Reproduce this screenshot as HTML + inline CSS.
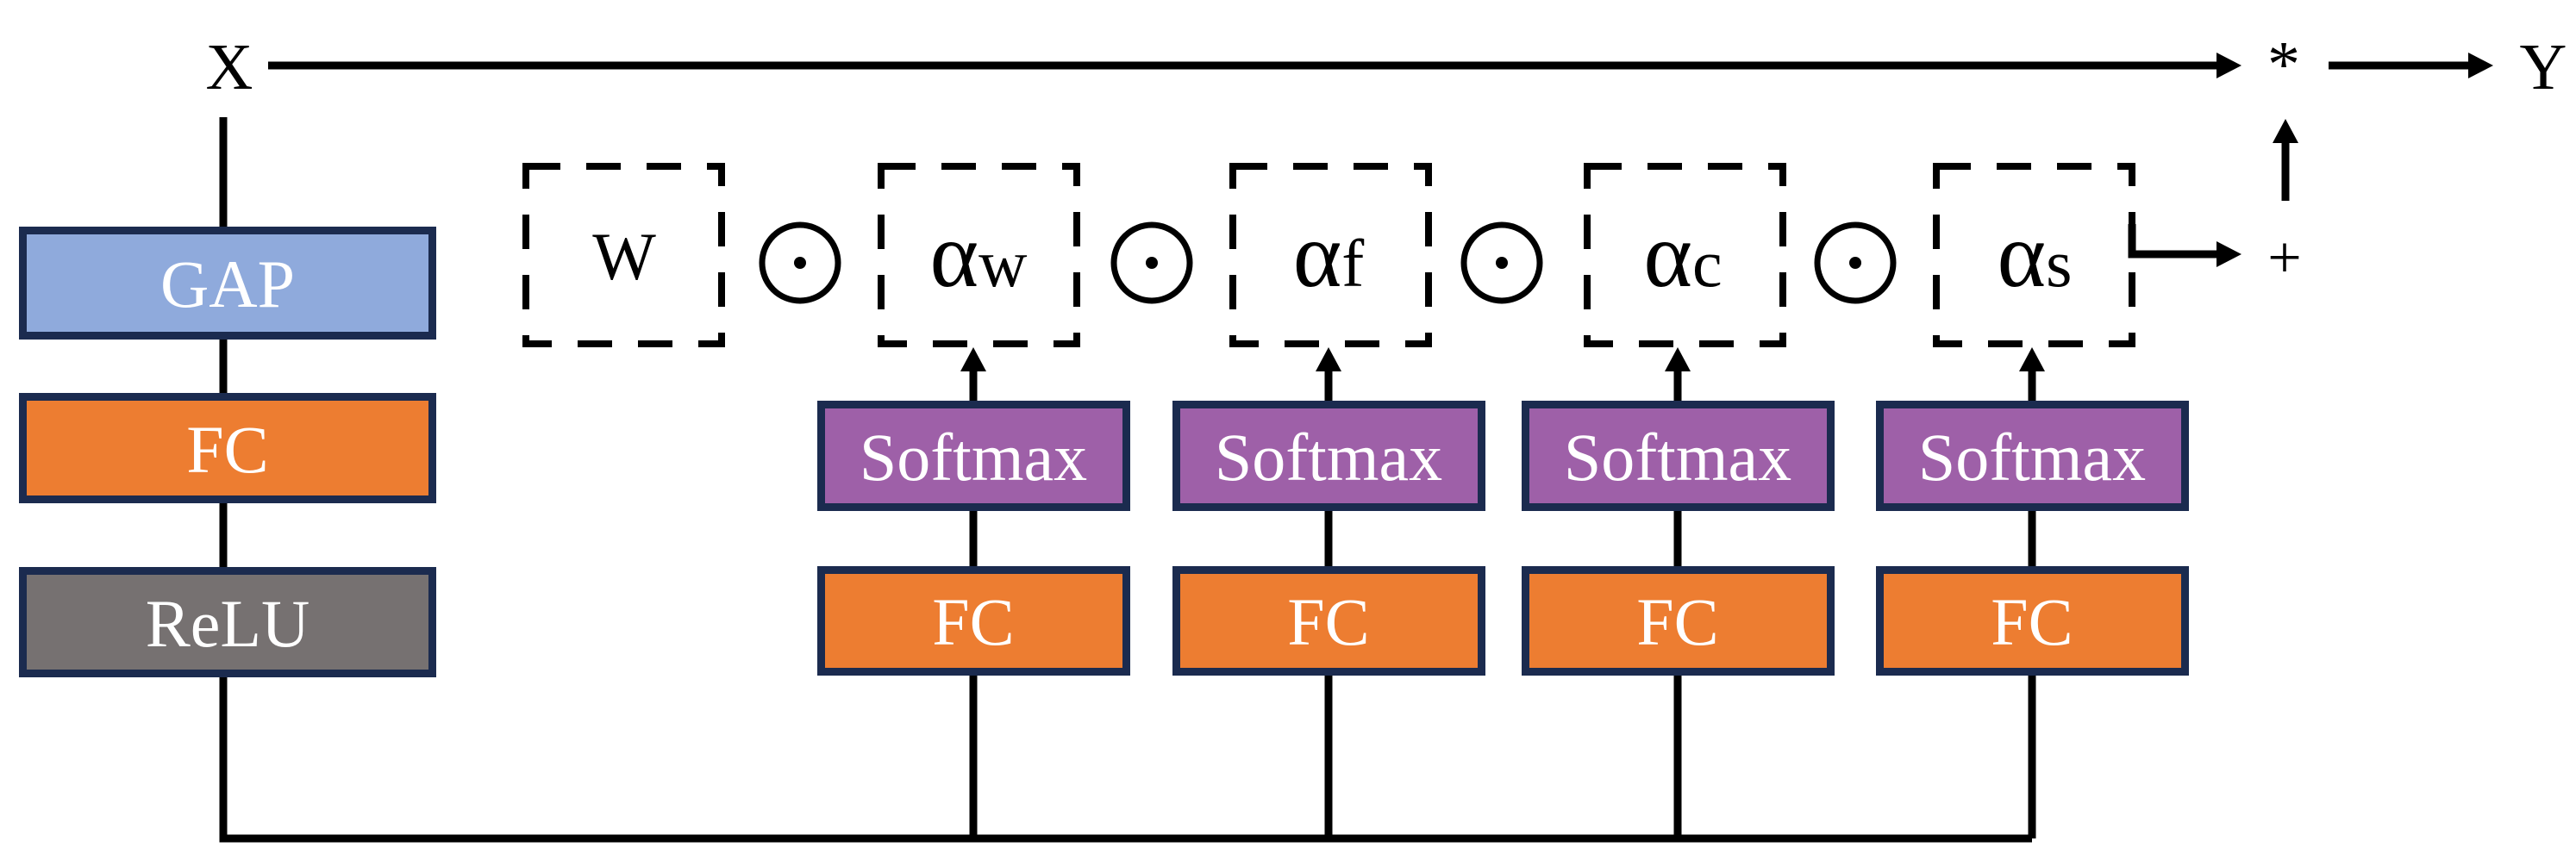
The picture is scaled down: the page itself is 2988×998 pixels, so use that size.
<!DOCTYPE html>
<html><head><meta charset="utf-8"><style>
html,body{margin:0;padding:0;background:#fff;}
svg{display:block;}
text{font-family:"Liberation Serif",serif;}
</style></head><body>
<svg width="2988" height="998" viewBox="0 0 2988 998" xmlns="http://www.w3.org/2000/svg">
<defs>
<marker id="ah" markerWidth="30" markerHeight="30" refX="0" refY="0" viewBox="-30 -15 30 30" markerUnits="userSpaceOnUse" orient="auto">
<path d="M-30,-15 L0,0 L-30,15 Z" fill="#000"/>
</marker>
</defs>
<g stroke="#000" stroke-width="9" fill="none">
<!-- top line -->
<line x1="311" y1="76" x2="2571" y2="76"/>
<path d="M2571,61 L2600,76 L2571,91 Z" fill="#000" stroke="none"/>
<line x1="2701" y1="76" x2="2863" y2="76"/>
<path d="M2863,61 L2892,76 L2863,91 Z" fill="#000" stroke="none"/>
<!-- up arrow + to * -->
<line x1="2651" y1="233" x2="2651" y2="166"/>
<path d="M2636,166 L2651,138 L2666,166 Z" fill="#000" stroke="none"/>
<!-- alpha s to + -->
<polyline points="2473,260 2473,295 2571,295"/>
<path d="M2571,280 L2600,295 L2571,310 Z" fill="#000" stroke="none"/>
<!-- left vertical and bottom -->
<polyline points="259,136 259,973 2357,973"/>
<line x1="1129" y1="973" x2="1129" y2="783"/>
<line x1="1541" y1="973" x2="1541" y2="783"/>
<line x1="1946" y1="973" x2="1946" y2="783"/>
<line x1="2357" y1="973" x2="2357" y2="783"/>
<!-- softmax-FC connectors -->
<line x1="1129" y1="593" x2="1129" y2="657"/>
<line x1="1541" y1="593" x2="1541" y2="657"/>
<line x1="1946" y1="593" x2="1946" y2="657"/>
<line x1="2357" y1="593" x2="2357" y2="657"/>
<!-- arrows softmax to dashed -->
<line x1="1129" y1="465" x2="1129" y2="430"/>
<line x1="1541" y1="465" x2="1541" y2="430"/>
<line x1="1946" y1="465" x2="1946" y2="430"/>
<line x1="2357" y1="465" x2="2357" y2="430"/>
</g>
<g fill="#000">
<path d="M1114,431 L1129,403 L1144,431 Z"/>
<path d="M1526,431 L1541,403 L1556,431 Z"/>
<path d="M1931,431 L1946,403 L1961,431 Z"/>
<path d="M2342,431 L2357,403 L2372,431 Z"/>
</g>
<!-- dashed boxes -->
<g stroke="#000" stroke-width="8" fill="none" stroke-dasharray="40 30">
<rect x="610" y="193" width="227" height="206"/>
<rect x="1022" y="193" width="227" height="206"/>
<rect x="1430" y="193" width="227" height="206"/>
<rect x="1841" y="193" width="227" height="206"/>
<rect x="2246" y="193" width="227" height="206"/>
</g>
<!-- odot -->
<g stroke="#000" stroke-width="7" fill="none">
<circle cx="928" cy="305" r="44"/>
<circle cx="1336" cy="305" r="44"/>
<circle cx="1742" cy="305" r="44"/>
<circle cx="2152" cy="305" r="44"/>
</g>
<g fill="#000">
<circle cx="928" cy="305" r="7"/>
<circle cx="1336" cy="305" r="7"/>
<circle cx="1742" cy="305" r="7"/>
<circle cx="2152" cy="305" r="7"/>
</g>
<!-- boxes -->
<g stroke="#1B2B4F" stroke-width="9">
<rect x="26.5" y="267.5" width="475" height="122" fill="#8FAADC"/>
<rect x="26.5" y="460.5" width="475" height="119" fill="#ED7D31"/>
<rect x="26.5" y="662.5" width="475" height="119" fill="#767171"/>
<rect x="952.5" y="469.5" width="354" height="119" fill="#9E60A8"/>
<rect x="1364.5" y="469.5" width="354" height="119" fill="#9E60A8"/>
<rect x="1769.5" y="469.5" width="354" height="119" fill="#9E60A8"/>
<rect x="2180.5" y="469.5" width="354" height="119" fill="#9E60A8"/>
<rect x="952.5" y="661.5" width="354" height="118" fill="#ED7D31"/>
<rect x="1364.5" y="661.5" width="354" height="118" fill="#ED7D31"/>
<rect x="1769.5" y="661.5" width="354" height="118" fill="#ED7D31"/>
<rect x="2180.5" y="661.5" width="354" height="118" fill="#ED7D31"/>
</g>
<g fill="#fff" font-size="78" text-anchor="middle">
<text x="264" y="356">GAP</text>
<text x="264" y="548">FC</text>
<text x="264" y="750">ReLU</text>
<text x="1129" y="557">Softmax</text>
<text x="1541" y="557">Softmax</text>
<text x="1946" y="557">Softmax</text>
<text x="2357" y="557">Softmax</text>
<text x="1129" y="748">FC</text>
<text x="1541" y="748">FC</text>
<text x="1946" y="748">FC</text>
<text x="2357" y="748">FC</text>
</g>
<g fill="#000" text-anchor="middle">
<text x="266" y="103" font-size="76">X</text>
<text x="2950" y="103" font-size="76">Y</text>
<text x="2649" y="100" font-size="76">*</text>
<text x="2650" y="322" font-size="70">+</text>
<text x="724" y="324" font-size="78">W</text>
<text x="1135" y="332"><tspan font-size="108">α</tspan><tspan font-size="78">w</tspan></text>
<text x="1541" y="332"><tspan font-size="108">α</tspan><tspan font-size="78">f</tspan></text>
<text x="1952" y="332"><tspan font-size="108">α</tspan><tspan font-size="78">c</tspan></text>
<text x="2360" y="332"><tspan font-size="108">α</tspan><tspan font-size="78">s</tspan></text>
</g>
</svg>
</body></html>
